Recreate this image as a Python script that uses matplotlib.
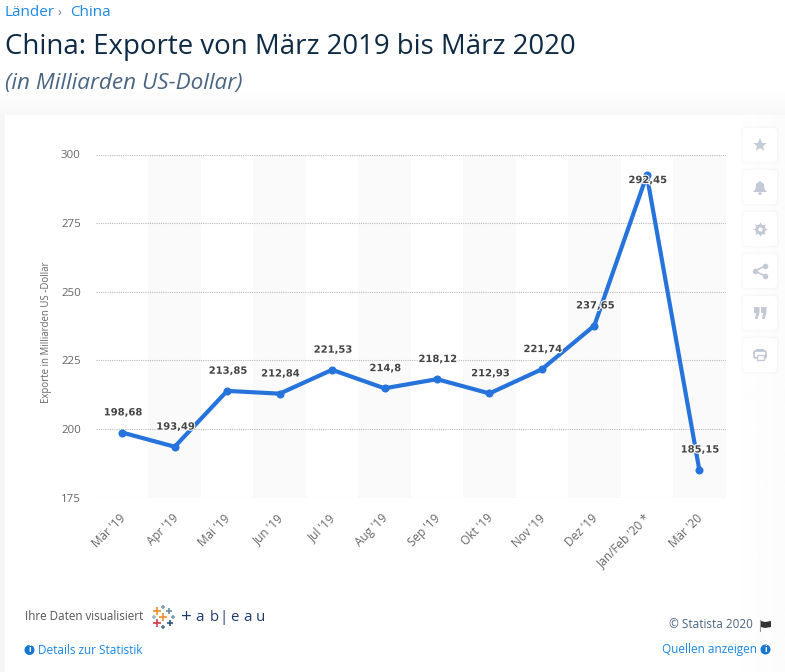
import matplotlib
matplotlib.use("Agg")
import matplotlib.pyplot as plt
import matplotlib.patheffects as pe
from matplotlib.patches import FancyBboxPatch, Rectangle, Circle, Polygon
from matplotlib.transforms import ScaledTranslation
import numpy as np

months = ["Mär '19", "Apr '19", "Mai '19", "Jun '19", "Jul '19", "Aug '19", "Sep '19",
          "Okt '19", "Nov '19", "Dez '19", "Jan/Feb '20 *", "Mär '20"]
exports = [198.68, 193.49, 213.85, 212.84, 221.53, 214.8, 218.12, 212.93, 221.74, 237.65, 292.45, 185.15]
value_labels = ["198,68", "193,49", "213,85", "212,84", "221,53", "214,8", "218,12",
                "212,93", "221,74", "237,65", "292,45", "185,15"]
y_ticks = [175, 200, 225, 250, 275, 300]

W, H = 785, 672
BLUE = "#2673dc"
LINK = "#1b87e6"
plt.rcParams["font.family"] = ["Open Sans", "DejaVu Sans"]

fig = plt.figure(figsize=(W / 100, H / 100), dpi=100, facecolor="white")

# page chrome in pixel coordinates
bg = fig.add_axes([0, 0, 1, 1], zorder=0)
bg.set_xlim(0, W); bg.set_ylim(H, 0); bg.axis("off")
# soft shadow above and to the left of the card
grad = np.linspace(1, 0.97, 30).reshape(-1, 1)
bg.imshow(grad, extent=(0, W, 115, 85), cmap="gray", vmin=0, vmax=1, aspect="auto", zorder=0)
bg.add_patch(Rectangle((0, 115), 5, H, fc="#f4f5f7", ec="none", zorder=0))
bg.set_xlim(0, W); bg.set_ylim(H, 0)
bg.add_patch(FancyBboxPatch((5, 115), 800, 600, boxstyle="round,pad=0,rounding_size=5",
                            fc="white", ec="none", zorder=1))
side = np.linspace(1, 0.985, 30).reshape(1, -1)
bg.imshow(side, extent=(728, 785, H, 115), cmap="gray", vmin=0, vmax=1, aspect="auto", zorder=1.5)
bg.set_xlim(0, W); bg.set_ylim(H, 0)


def px(s):
    return s * 0.72


bg.text(5, 12, "Länder", fontsize=px(15.2), color=LINK, va="center")
bg.text(58, 12.5, "›", fontsize=px(13), color="#667788", va="center")
bg.text(70, 12, "China", fontsize=px(15.2), color=LINK, va="center")
bg.text(5, 47, "China: Exporte von März 2019 bis März 2020", fontsize=px(27.6), color="#0f2a44",
        va="center", fontweight="medium")
bg.text(5, 84, "(in Milliarden US-Dollar)", fontsize=px(22.5), color="#4a6484", va="center", style="italic")

# side buttons
glyph = "#c3cad5"
ys = [145, 187, 229, 271, 313, 355]
for y in ys:
    for grow, a in [(3, 0.005), (2, 0.008), (1, 0.012)]:
        bg.add_patch(FancyBboxPatch((743 - grow, y - 17 - grow), 34 + 2 * grow, 34 + 2 * grow,
                                    boxstyle="round,pad=0,rounding_size=5", fc="black", alpha=a, ec="none", zorder=2))
    bg.add_patch(FancyBboxPatch((743, y - 17), 34, 34, boxstyle="round,pad=0,rounding_size=4",
                                fc="white", ec="none", zorder=2))
bg.plot(760, 145, marker="*", ms=10, color=glyph, mew=0, zorder=3)
bg.add_patch(Polygon([(753, 192), (755.5, 189), (756, 184), (760, 181), (764, 184), (764.5, 189), (767, 192)],
                     fc=glyph, ec="none", zorder=3))
bg.add_patch(Circle((760, 193.5), 1.6, fc=glyph, ec="none", zorder=3))
bg.plot(760, 229, marker=(8, 1, 0), ms=11, color=glyph, mew=0, zorder=3)
bg.plot(760, 229, marker="o", ms=7.5, color=glyph, mew=0, zorder=3)
bg.plot(760, 229, marker="o", ms=3, color="white", mew=0, zorder=3)
bg.plot([765, 755, 765], [266, 271, 276], color=glyph, lw=1.2, marker="o", ms=4, mew=0, zorder=3)
for qx in (754, 761):
    bg.add_patch(Polygon([(qx, 307), (qx + 5.5, 307), (qx + 5.5, 313), (qx + 3.5, 319), (qx + 1, 319),
                          (qx + 2, 313), (qx, 313)], fc=glyph, ec="none", zorder=3))
bg.add_patch(FancyBboxPatch((754, 351), 12, 7, boxstyle="round,pad=0,rounding_size=1.5", fc="none", ec=glyph, lw=1.3, zorder=3))
bg.add_patch(Rectangle((756, 349), 8, 2, fc=glyph, ec="none", zorder=3))
bg.add_patch(Rectangle((756.5, 355), 7, 5, fc="white", ec=glyph, lw=1, zorder=3))

# footer
bg.text(25, 617, "Ihre Daten visualisiert", fontsize=px(11.6), color="#555555", va="center", zorder=3)
plus = [(157, 611, "#f28e2b", 5.2), (163, 607, "#7f9fb5", 3.4), (169, 611, "#6d8ba3", 4.4),
        (154, 617, "#9fb5c6", 3.4), (163, 617, "#f28e2b", 5.6), (173, 617, "#7f9fb5", 3.4),
        (157, 623, "#d13a4f", 5.2), (163, 627, "#5a7a9a", 3.4), (170, 623, "#2f5485", 4.6)]
for x0, y0, c, m in plus:
    bg.plot(x0, y0, marker="+", ms=m, mew=1.2, color=c, zorder=3)
for lx, ch in [(186, "+"), (200, "a"), (214, "b"), (223.5, "|"), (234, "e"), (247, "a"), (260, "u")]:
    bg.text(lx, 617.5, ch, fontsize=px(15 if ch != "+" else 19), color="#1f3a6e", va="center", ha="center",
            fontweight="medium", zorder=3)
bg.add_patch(Circle((29.5, 650), 5, fc="#1676d2", ec="none", zorder=3))
bg.text(29.5, 650, "i", fontsize=px(9), color="white", va="center", ha="center", fontweight="bold", zorder=4)
bg.text(38, 650, "Details zur Statistik", fontsize=px(11.8), color=LINK, va="center", zorder=3)
bg.text(753, 625, "© Statista 2020", fontsize=px(11.8), color="#4a6484", va="center", ha="right", zorder=3)
bg.plot([759.5, 759.5], [620, 631], color="#999999", lw=0.8, zorder=3)
bg.add_patch(Polygon([(761, 621), (765, 622), (771, 621), (771, 627), (765, 628), (761, 627)],
                     fc="#333333", ec="none", zorder=3))
bg.text(757, 650, "Quellen anzeigen", fontsize=px(11.8), color=LINK, va="center", ha="right", zorder=3)
bg.add_patch(Circle((765.5, 649.5), 5, fc="#1676d2", ec="none", zorder=3))
bg.text(765.5, 649.5, "i", fontsize=px(9), color="white", va="center", ha="center", fontweight="bold", zorder=4)

# chart
left, right, top, bottom = 96, 725.5, 154.5, 497.5
ax = fig.add_axes([left / W, 1 - bottom / H, (right - left) / W, (bottom - top) / H], zorder=1)
ax.patch.set_alpha(0)
x = list(range(len(months)))
ax.set_xlim(-0.5, len(months) - 0.5)
ax.set_ylim(175, 300)
for i in x[1::2]:
    ax.axvspan(i - 0.5, i + 0.5, color="#fafafa", lw=0, zorder=0)
ax.grid(axis="y", color="#bbbbbb", ls=(0, (1, 1)), lw=0.8, zorder=1)
ax.set_axisbelow(True)
for s in ax.spines.values():
    s.set_visible(False)
ax.tick_params(length=0)
ax.set_yticks(y_ticks)
ax.tick_params(axis="y", pad=11, labelsize=px(11.5), labelcolor="#666666")
ax.set_xticks(x)
ax.set_xticklabels(months, rotation=45, ha="right", va="top", rotation_mode="anchor",
                   fontsize=px(11.7), color="#666666")
ax.tick_params(axis="x", pad=11)
shift = ScaledTranslation(-3 / 100, 1 / 100, fig.dpi_scale_trans)
for lab in ax.get_xticklabels():
    lab.set_transform(lab.get_transform() + shift)
ax.set_ylabel("Exporte in Milliarden US -Dollar", fontsize=px(9.7), color="#666666")
ax.yaxis.set_label_coords(-44 / (right - left), 1 - (332 - top) / (bottom - top))
ax.plot(x, exports, color=BLUE, lw=3, marker="o", ms=5.8, mew=0, zorder=3, clip_on=False,
        solid_joinstyle="round")
for i, (v, t) in enumerate(zip(exports, value_labels)):
    dy = -3.5 if v > 290 else 14.5
    ax.annotate(t, (i, v), xytext=(0.7, dy), textcoords="offset points", ha="center", va="center",
                fontsize=px(10), fontweight="bold", color="#444444", family=["DejaVu Sans"], zorder=4,
                path_effects=[pe.withStroke(linewidth=1.5, foreground="white")])

fig.savefig("out.png", dpi=100)
